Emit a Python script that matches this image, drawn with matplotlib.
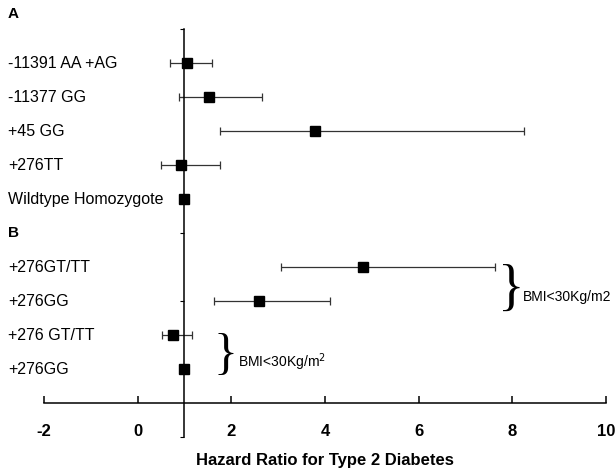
import numpy as np
import matplotlib
matplotlib.use('Agg')
import matplotlib.pyplot as plt
from matplotlib.transforms import blended_transform_factory

plt.rcParams['font.family'] = ['Liberation Sans', 'DejaVu Sans']

#row labels from top to bottom, with their hazard ratio and 95% CI
labels = ['-11391 AA +AG', '-11377 GG', '+45 GG', '+276TT', 'Wildtype Homozygote',
          '+276GT/TT', '+276GG', '+276 GT/TT', '+276GG']
rows = [10, 9, 8, 7, 6, 4, 3, 2, 1]
hr = [1.05, 1.52, 3.79, 0.92, 1.0, 4.81, 2.59, 0.75, 1.0]
ci_low = [0.70, 0.89, 1.76, 0.49, 1.0, 3.07, 1.63, 0.53, 1.0]
ci_high = [1.58, 2.66, 8.24, 1.76, 1.0, 7.64, 4.11, 1.16, 1.0]
xticks = [-2, 0, 2, 4, 6, 8, 10]

hr = np.array(hr)
err = [hr - np.array(ci_low), np.array(ci_high) - hr]

fig = plt.figure(figsize=(6.16, 4.69), dpi=100)
ax = fig.add_axes([0.0714, 0.0682, 0.9124, 0.8698])

#error bars with small caps, black square markers
ax.errorbar(hr, rows, xerr=err, fmt='none', ecolor='#333333', elinewidth=0.9,
            capsize=3, capthick=0.9, zorder=2)
ax.plot(hr, rows, 's', color='black', markersize=6.5, zorder=3)

ax.set_xlim(-2, 10)
ax.set_ylim(-1, 11)

#axes cross at x=1 and y=0
for s in ['top', 'right']:
    ax.spines[s].set_visible(False)
ax.spines['bottom'].set_position(('data', 0))
ax.spines['left'].set_position(('data', 1))
ax.spines['bottom'].set_linewidth(1.1)
ax.spines['left'].set_linewidth(1.1)

ax.set_xticks(xticks)
ax.set_xticklabels([str(t) for t in xticks], fontweight='bold', fontsize=12)
ax.tick_params(axis='x', direction='in', length=5, width=1.1, pad=15)
ax.set_yticks([-1, 1, 3, 5, 7, 9, 11])
ax.set_yticklabels([])
ax.tick_params(axis='y', direction='out', length=3, width=0.8)

ax.set_xlabel('Hazard Ratio for Type 2 Diabetes', fontweight='bold', fontsize=12)
ax.xaxis.set_label_coords(0.5, -0.04)

#category labels at the left edge of the figure
tr = blended_transform_factory(fig.transFigure, ax.transData)
for lab, r in zip(labels, rows):
    ax.text(8 / 616, r, lab, transform=tr, ha='left', va='center', fontsize=11.5)
ax.text(8 / 616, 11.45, 'A', transform=tr, ha='left', va='center', fontsize=11, fontweight='bold')
ax.text(8 / 616, 5, 'B', transform=tr, ha='left', va='center', fontsize=11, fontweight='bold')

#braces for the BMI subgroups
ax.text(7.7, 3.3, '}', fontsize=40, family='Liberation Serif', ha='left', va='center')
ax.text(8.22, 3.12, 'BMI<30Kg/m2', fontsize=10, ha='left', va='center')
ax.text(1.62, 1.4, '}', fontsize=36, family='Liberation Serif', ha='left', va='center')
ax.text(2.15, 1.2, 'BMI<30Kg/m$^2$', fontsize=10, ha='left', va='center')

fig.savefig('out.png', dpi=100)
